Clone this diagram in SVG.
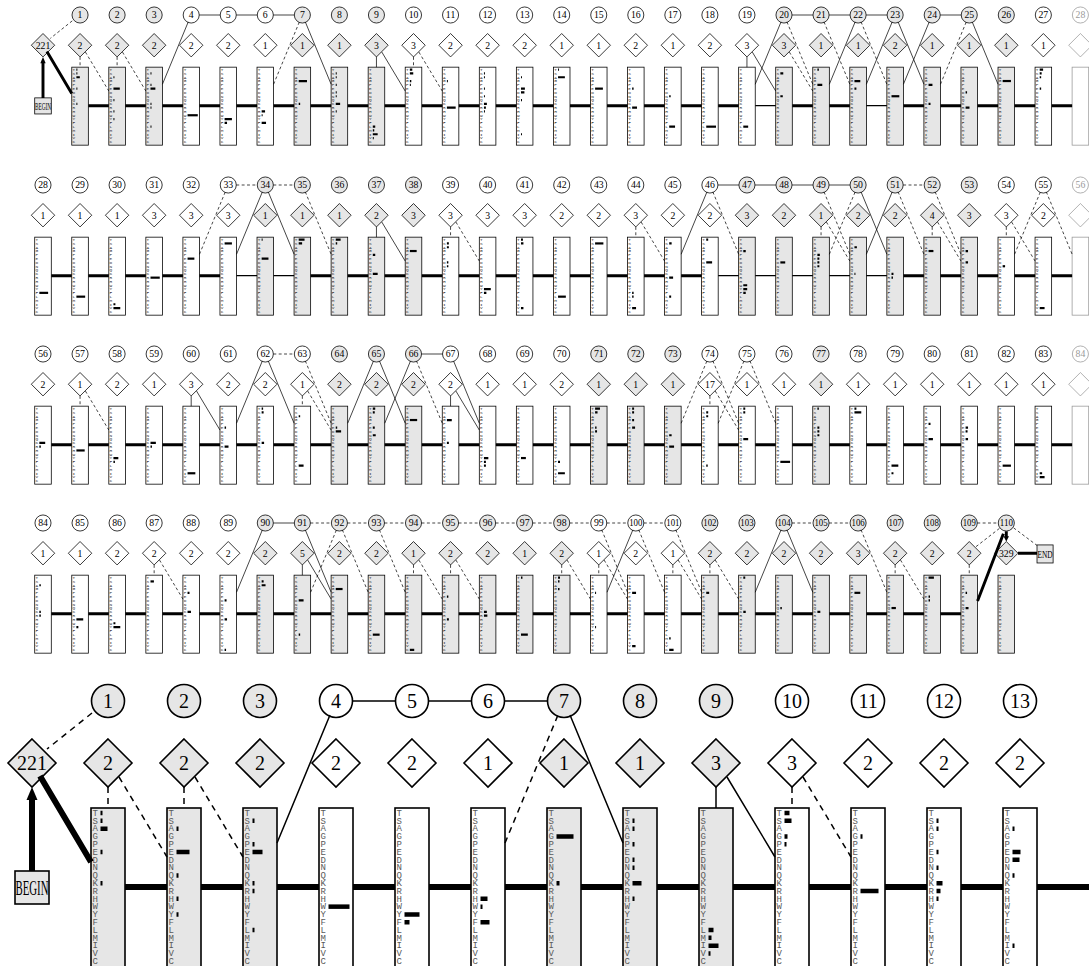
<svg xmlns="http://www.w3.org/2000/svg" width="1089" height="966" viewBox="0 0 1089 966">
<defs>
<style>
.s{stroke:#000;stroke-width:1.6}
.w{fill:#fff}
.k{fill:#e6e6e6}
.f{fill:#fff;stroke:#9a9a9a;stroke-width:1.6}
.n{font-family:"Liberation Serif","Times New Roman",serif;font-size:20px;text-anchor:middle;fill:#000}
.nf{fill:#9a9a9a}
.aa{font-family:"Liberation Mono","Courier New",monospace;font-size:9px}
#nodes-row1,#nodes-row2,#nodes-row3,#nodes-row4{fill:#2a2a2a}
#nodes-large{fill:#5a5a5a}
.b{fill:#000}
.ln{fill:none;stroke:#000;stroke-width:1.5}
.ds{stroke-dasharray:6 5}
.mm{fill:none;stroke:#000;stroke-width:6}
.mt{fill:none;stroke:#000;stroke-width:2.5}
.tk{fill:none;stroke:#000;stroke-width:6}
</style>
<g id="aa" class="aa">
<text x="-15.5" y="114.8">T</text><text x="-15.5" y="122.6">S</text><text x="-15.5" y="130.4">A</text><text x="-15.5" y="138.2">G</text><text x="-15.5" y="146">P</text><text x="-15.5" y="153.8">E</text><text x="-15.5" y="161.6">D</text><text x="-15.5" y="169.4">N</text><text x="-15.5" y="177.2">Q</text><text x="-15.5" y="185">K</text><text x="-15.5" y="192.8">R</text><text x="-15.5" y="200.6">H</text><text x="-15.5" y="208.4">W</text><text x="-15.5" y="216.2">Y</text><text x="-15.5" y="224">F</text><text x="-15.5" y="231.8">L</text><text x="-15.5" y="239.6">M</text><text x="-15.5" y="247.4">I</text><text x="-15.5" y="255.2">V</text><text x="-15.5" y="263">C</text>
</g>
</defs>
<rect width="1089" height="966" fill="#fff"/>

<g id="nodes">
<!-- ROW 1 -->
<g id="nodes-row1" transform="translate(43,15) scale(0.4875)">
<g id="begin"><rect class="s k" x="-17" y="170" width="34" height="33"/><text class="n" y="194" style="font-size:21px" textLength="33" lengthAdjust="spacingAndGlyphs">BEGIN</text></g>
<g id="i0" transform="translate(0,62)"><path class="s k" d="M0-24 24 0 0 24-24 0z"/><text class="n" y="7">221</text></g>
<g id="d1" transform="translate(76,0)"><circle class="s k" r="16.5"/><text class="n" y="7">1</text></g>
<g id="i1" transform="translate(76,62)"><path class="s k" d="M0-24 24 0 0 24-24 0z"/><text class="n" y="7">2</text></g>
<g id="m1" transform="translate(76,0)"><rect class="s k" x="-17" y="107" width="34" height="160"/><use href="#aa"/><path class="b" d="M-7.5 109.8h2v4.5h-2zM-7.5 117.6h2v4.5h-2zM-7.5 125.4h7v4.5h-7zM-7.5 148.8h2v4.5h-2zM-7.5 180h2v4.5h-2z"/></g>
<g id="d2" transform="translate(152,0)"><circle class="s k" r="16.5"/><text class="n" y="7">2</text></g>
<g id="i2" transform="translate(152,62)"><path class="s k" d="M0-24 24 0 0 24-24 0z"/><text class="n" y="7">2</text></g>
<g id="m2" transform="translate(152,0)"><rect class="s k" x="-17" y="107" width="34" height="160"/><use href="#aa"/><path class="b" d="M-7.5 125.4h2v4.5h-2zM-7.5 148.8h13v4.5h-13zM-7.5 172.2h2v4.5h-2zM-7.5 195.6h2v4.5h-2zM-7.5 211.2h2v4.5h-2z"/></g>
<g id="d3" transform="translate(228,0)"><circle class="s k" r="16.5"/><text class="n" y="7">3</text></g>
<g id="i3" transform="translate(228,62)"><path class="s k" d="M0-24 24 0 0 24-24 0z"/><text class="n" y="7">2</text></g>
<g id="m3" transform="translate(228,0)"><rect class="s k" x="-17" y="107" width="34" height="160"/><use href="#aa"/><path class="b" d="M-7.5 117.6h2v4.5h-2zM-7.5 141h2v4.5h-2zM-7.5 148.8h10v4.5h-10zM-7.5 180h2v4.5h-2zM-7.5 187.8h2v4.5h-2zM-7.5 226.8h2v4.5h-2z"/></g>
<g id="d4" transform="translate(304,0)"><circle class="s w" r="16.5"/><text class="n" y="7">4</text></g>
<g id="i4" transform="translate(304,62)"><path class="s w" d="M0-24 24 0 0 24-24 0z"/><text class="n" y="7">2</text></g>
<g id="m4" transform="translate(304,0)"><rect class="s w" x="-17" y="107" width="34" height="160"/><use href="#aa"/><path class="b" d="M-7.5 203.4h21v4.5h-21z"/></g>
<g id="d5" transform="translate(380,0)"><circle class="s w" r="16.5"/><text class="n" y="7">5</text></g>
<g id="i5" transform="translate(380,62)"><path class="s w" d="M0-24 24 0 0 24-24 0z"/><text class="n" y="7">2</text></g>
<g id="m5" transform="translate(380,0)"><rect class="s w" x="-17" y="107" width="34" height="160"/><use href="#aa"/><path class="b" d="M-7.5 211.2h15v4.5h-15zM-7.5 219h5v4.5h-5z"/></g>
<g id="d6" transform="translate(456,0)"><circle class="s w" r="16.5"/><text class="n" y="7">6</text></g>
<g id="i6" transform="translate(456,62)"><path class="s w" d="M0-24 24 0 0 24-24 0z"/><text class="n" y="7">1</text></g>
<g id="m6" transform="translate(456,0)"><rect class="s w" x="-17" y="107" width="34" height="160"/><use href="#aa"/><path class="b" d="M-7.5 195.6h7v4.5h-7zM-7.5 203.4h2v4.5h-2zM-7.5 219h9v4.5h-9z"/></g>
<g id="d7" transform="translate(532,0)"><circle class="s k" r="16.5"/><text class="n" y="7">7</text></g>
<g id="i7" transform="translate(532,62)"><path class="s k" d="M0-24 24 0 0 24-24 0z"/><text class="n" y="7">1</text></g>
<g id="m7" transform="translate(532,0)"><rect class="s k" x="-17" y="107" width="34" height="160"/><use href="#aa"/><path class="b" d="M-7.5 133.2h17v4.5h-17zM-7.5 180h3v4.5h-3z"/></g>
<g id="d8" transform="translate(608,0)"><circle class="s k" r="16.5"/><text class="n" y="7">8</text></g>
<g id="i8" transform="translate(608,62)"><path class="s k" d="M0-24 24 0 0 24-24 0z"/><text class="n" y="7">1</text></g>
<g id="m8" transform="translate(608,0)"><rect class="s k" x="-17" y="107" width="34" height="160"/><use href="#aa"/><path class="b" d="M-7.5 117.6h2v4.5h-2zM-7.5 125.4h2v4.5h-2zM-7.5 141h2v4.5h-2zM-7.5 156.6h2v4.5h-2zM-7.5 164.4h2v4.5h-2zM-7.5 180h9v4.5h-9zM-7.5 195.6h2v4.5h-2z"/></g>
<g id="d9" transform="translate(684,0)"><circle class="s k" r="16.5"/><text class="n" y="7">9</text></g>
<g id="i9" transform="translate(684,62)"><path class="s k" d="M0-24 24 0 0 24-24 0z"/><text class="n" y="7">3</text></g>
<g id="m9" transform="translate(684,0)"><rect class="s k" x="-17" y="107" width="34" height="160"/><use href="#aa"/><path class="b" d="M-7.5 226.8h5v4.5h-5zM-7.5 234.6h3v4.5h-3zM-7.5 242.4h10v4.5h-10zM-7.5 250.2h2v4.5h-2z"/></g>
<g id="d10" transform="translate(760,0)"><circle class="s w" r="16.5"/><text class="n" y="7">10</text></g>
<g id="i10" transform="translate(760,62)"><path class="s w" d="M0-24 24 0 0 24-24 0z"/><text class="n" y="7">3</text></g>
<g id="m10" transform="translate(760,0)"><rect class="s w" x="-17" y="107" width="34" height="160"/><use href="#aa"/><path class="b" d="M-7.5 109.8h5v4.5h-5zM-7.5 117.6h7v4.5h-7zM-7.5 133.2h3v4.5h-3zM-7.5 141h2v4.5h-2z"/></g>
<g id="d11" transform="translate(836,0)"><circle class="s w" r="16.5"/><text class="n" y="7">11</text></g>
<g id="i11" transform="translate(836,62)"><path class="s w" d="M0-24 24 0 0 24-24 0z"/><text class="n" y="7">2</text></g>
<g id="m11" transform="translate(836,0)"><rect class="s w" x="-17" y="107" width="34" height="160"/><use href="#aa"/><path class="b" d="M-7.5 133.2h2v4.5h-2zM-7.5 187.8h18v4.5h-18z"/></g>
<g id="d12" transform="translate(912,0)"><circle class="s w" r="16.5"/><text class="n" y="7">12</text></g>
<g id="i12" transform="translate(912,62)"><path class="s w" d="M0-24 24 0 0 24-24 0z"/><text class="n" y="7">2</text></g>
<g id="m12" transform="translate(912,0)"><rect class="s w" x="-17" y="107" width="34" height="160"/><use href="#aa"/><path class="b" d="M-7.5 117.6h2v4.5h-2zM-7.5 125.4h2v4.5h-2zM-7.5 148.8h2v4.5h-2zM-7.5 164.4h2v4.5h-2zM-7.5 180h6v4.5h-6zM-7.5 187.8h4v4.5h-4zM-7.5 195.6h2v4.5h-2z"/></g>
<g id="d13" transform="translate(988,0)"><circle class="s w" r="16.5"/><text class="n" y="7">13</text></g>
<g id="i13" transform="translate(988,62)"><path class="s w" d="M0-24 24 0 0 24-24 0z"/><text class="n" y="7">2</text></g>
<g id="m13" transform="translate(988,0)"><rect class="s w" x="-17" y="107" width="34" height="160"/><use href="#aa"/><path class="b" d="M-7.5 125.4h2v4.5h-2zM-7.5 148.8h8v4.5h-8zM-7.5 156.6h7v4.5h-7zM-7.5 172.2h2v4.5h-2zM-7.5 242.4h2v4.5h-2z"/></g>
<g id="d14" transform="translate(1064,0)"><circle class="s w" r="16.5"/><text class="n" y="7">14</text></g>
<g id="i14" transform="translate(1064,62)"><path class="s w" d="M0-24 24 0 0 24-24 0z"/><text class="n" y="7">1</text></g>
<g id="m14" transform="translate(1064,0)"><rect class="s w" x="-17" y="107" width="34" height="160"/><use href="#aa"/><path class="b" d="M-7.5 109.8h2v4.5h-2zM-7.5 125.4h14v4.5h-14z"/></g>
<g id="d15" transform="translate(1140,0)"><circle class="s w" r="16.5"/><text class="n" y="7">15</text></g>
<g id="i15" transform="translate(1140,62)"><path class="s w" d="M0-24 24 0 0 24-24 0z"/><text class="n" y="7">1</text></g>
<g id="m15" transform="translate(1140,0)"><rect class="s w" x="-17" y="107" width="34" height="160"/><use href="#aa"/><path class="b" d="M-7.5 148.8h16v4.5h-16z"/></g>
<g id="d16" transform="translate(1216,0)"><circle class="s w" r="16.5"/><text class="n" y="7">16</text></g>
<g id="i16" transform="translate(1216,62)"><path class="s w" d="M0-24 24 0 0 24-24 0z"/><text class="n" y="7">2</text></g>
<g id="m16" transform="translate(1216,0)"><rect class="s w" x="-17" y="107" width="34" height="160"/><use href="#aa"/><path class="b" d="M-7.5 148.8h3v4.5h-3zM-7.5 187.8h10v4.5h-10z"/></g>
<g id="d17" transform="translate(1292,0)"><circle class="s w" r="16.5"/><text class="n" y="7">17</text></g>
<g id="i17" transform="translate(1292,62)"><path class="s w" d="M0-24 24 0 0 24-24 0z"/><text class="n" y="7">1</text></g>
<g id="m17" transform="translate(1292,0)"><rect class="s w" x="-17" y="107" width="34" height="160"/><use href="#aa"/><path class="b" d="M-7.5 164.4h3v4.5h-3zM-7.5 226.8h12v4.5h-12z"/></g>
<g id="d18" transform="translate(1368,0)"><circle class="s w" r="16.5"/><text class="n" y="7">18</text></g>
<g id="i18" transform="translate(1368,62)"><path class="s w" d="M0-24 24 0 0 24-24 0z"/><text class="n" y="7">2</text></g>
<g id="m18" transform="translate(1368,0)"><rect class="s w" x="-17" y="107" width="34" height="160"/><use href="#aa"/><path class="b" d="M-7.5 226.8h20v4.5h-20z"/></g>
<g id="d19" transform="translate(1444,0)"><circle class="s w" r="16.5"/><text class="n" y="7">19</text></g>
<g id="i19" transform="translate(1444,62)"><path class="s w" d="M0-24 24 0 0 24-24 0z"/><text class="n" y="7">3</text></g>
<g id="m19" transform="translate(1444,0)"><rect class="s w" x="-17" y="107" width="34" height="160"/><use href="#aa"/><path class="b" d="M-7.5 226.8h10v4.5h-10z"/></g>
<g id="d20" transform="translate(1520,0)"><circle class="s k" r="16.5"/><text class="n" y="7">20</text></g>
<g id="i20" transform="translate(1520,62)"><path class="s k" d="M0-24 24 0 0 24-24 0z"/><text class="n" y="7">3</text></g>
<g id="m20" transform="translate(1520,0)"><rect class="s k" x="-17" y="107" width="34" height="160"/><use href="#aa"/><path class="b" d="M-7.5 117.6h6v4.5h-6zM-7.5 164.4h5v4.5h-5z"/></g>
<g id="d21" transform="translate(1596,0)"><circle class="s k" r="16.5"/><text class="n" y="7">21</text></g>
<g id="i21" transform="translate(1596,62)"><path class="s k" d="M0-24 24 0 0 24-24 0z"/><text class="n" y="7">1</text></g>
<g id="m21" transform="translate(1596,0)"><rect class="s k" x="-17" y="107" width="34" height="160"/><use href="#aa"/><path class="b" d="M-7.5 109.8h3v4.5h-3zM-7.5 141h10v4.5h-10z"/></g>
<g id="d22" transform="translate(1672,0)"><circle class="s k" r="16.5"/><text class="n" y="7">22</text></g>
<g id="i22" transform="translate(1672,62)"><path class="s k" d="M0-24 24 0 0 24-24 0z"/><text class="n" y="7">1</text></g>
<g id="m22" transform="translate(1672,0)"><rect class="s k" x="-17" y="107" width="34" height="160"/><use href="#aa"/><path class="b" d="M-7.5 133.2h12v4.5h-12zM-7.5 148.8h4v4.5h-4z"/></g>
<g id="d23" transform="translate(1748,0)"><circle class="s k" r="16.5"/><text class="n" y="7">23</text></g>
<g id="i23" transform="translate(1748,62)"><path class="s k" d="M0-24 24 0 0 24-24 0z"/><text class="n" y="7">2</text></g>
<g id="m23" transform="translate(1748,0)"><rect class="s k" x="-17" y="107" width="34" height="160"/><use href="#aa"/><path class="b" d="M-7.5 164.4h16v4.5h-16z"/></g>
<g id="d24" transform="translate(1824,0)"><circle class="s k" r="16.5"/><text class="n" y="7">24</text></g>
<g id="i24" transform="translate(1824,62)"><path class="s k" d="M0-24 24 0 0 24-24 0z"/><text class="n" y="7">1</text></g>
<g id="m24" transform="translate(1824,0)"><rect class="s k" x="-17" y="107" width="34" height="160"/><use href="#aa"/><path class="b" d="M-7.5 141h8v4.5h-8zM-7.5 180h4v4.5h-4z"/></g>
<g id="d25" transform="translate(1900,0)"><circle class="s k" r="16.5"/><text class="n" y="7">25</text></g>
<g id="i25" transform="translate(1900,62)"><path class="s k" d="M0-24 24 0 0 24-24 0z"/><text class="n" y="7">1</text></g>
<g id="m25" transform="translate(1900,0)"><rect class="s k" x="-17" y="107" width="34" height="160"/><use href="#aa"/><path class="b" d="M-7.5 156.6h3v4.5h-3zM-7.5 187.8h8v4.5h-8z"/></g>
<g id="d26" transform="translate(1976,0)"><circle class="s k" r="16.5"/><text class="n" y="7">26</text></g>
<g id="i26" transform="translate(1976,62)"><path class="s k" d="M0-24 24 0 0 24-24 0z"/><text class="n" y="7">1</text></g>
<g id="m26" transform="translate(1976,0)"><rect class="s k" x="-17" y="107" width="34" height="160"/><use href="#aa"/><path class="b" d="M-7.5 133.2h17v4.5h-17z"/></g>
<g id="d27" transform="translate(2052,0)"><circle class="s w" r="16.5"/><text class="n" y="7">27</text></g>
<g id="i27" transform="translate(2052,62)"><path class="s w" d="M0-24 24 0 0 24-24 0z"/><text class="n" y="7">1</text></g>
<g id="m27" transform="translate(2052,0)"><rect class="s w" x="-17" y="107" width="34" height="160"/><use href="#aa"/><path class="b" d="M-7.5 109.8h7v4.5h-7zM-7.5 117.6h4v4.5h-4zM-7.5 125.4h3v4.5h-3zM-7.5 148.8h3v4.5h-3z"/></g>
<g id="gd28" transform="translate(2128,0)"><circle class="f" r="16.5"/><text class="n nf" y="7">28</text></g>
<g id="gi28" transform="translate(2128,62)"><path class="f" d="M0-24 24 0 0 24-24 0z"/></g>
<g id="gm28" transform="translate(2128,0)"><rect class="f" x="-17" y="107" width="34" height="160"/></g>
</g>

<!-- ROW 2 -->
<g id="nodes-row2" transform="translate(43,185) scale(0.4875)">
<g id="d28" transform="translate(0,0)"><circle class="s w" r="16.5"/><text class="n" y="7">28</text></g>
<g id="i28" transform="translate(0,62)"><path class="s w" d="M0-24 24 0 0 24-24 0z"/><text class="n" y="7">1</text></g>
<g id="m28" transform="translate(0,0)"><rect class="s w" x="-17" y="107" width="34" height="160"/><use href="#aa"/><path class="b" d="M-7.5 219h18v4.5h-18z"/></g>
<g id="d29" transform="translate(76,0)"><circle class="s w" r="16.5"/><text class="n" y="7">29</text></g>
<g id="i29" transform="translate(76,62)"><path class="s w" d="M0-24 24 0 0 24-24 0z"/><text class="n" y="7">1</text></g>
<g id="m29" transform="translate(76,0)"><rect class="s w" x="-17" y="107" width="34" height="160"/><use href="#aa"/><path class="b" d="M-7.5 226.8h18v4.5h-18z"/></g>
<g id="d30" transform="translate(152,0)"><circle class="s w" r="16.5"/><text class="n" y="7">30</text></g>
<g id="i30" transform="translate(152,62)"><path class="s w" d="M0-24 24 0 0 24-24 0z"/><text class="n" y="7">1</text></g>
<g id="m30" transform="translate(152,0)"><rect class="s w" x="-17" y="107" width="34" height="160"/><use href="#aa"/><path class="b" d="M-7.5 242.4h4v4.5h-4zM-7.5 250.2h14v4.5h-14z"/></g>
<g id="d31" transform="translate(228,0)"><circle class="s w" r="16.5"/><text class="n" y="7">31</text></g>
<g id="i31" transform="translate(228,62)"><path class="s w" d="M0-24 24 0 0 24-24 0z"/><text class="n" y="7">3</text></g>
<g id="m31" transform="translate(228,0)"><rect class="s w" x="-17" y="107" width="34" height="160"/><use href="#aa"/><path class="b" d="M-7.5 187.8h19v4.5h-19z"/></g>
<g id="d32" transform="translate(304,0)"><circle class="s w" r="16.5"/><text class="n" y="7">32</text></g>
<g id="i32" transform="translate(304,62)"><path class="s w" d="M0-24 24 0 0 24-24 0z"/><text class="n" y="7">3</text></g>
<g id="m32" transform="translate(304,0)"><rect class="s w" x="-17" y="107" width="34" height="160"/><use href="#aa"/><path class="b" d="M-7.5 148.8h14v4.5h-14z"/></g>
<g id="d33" transform="translate(380,0)"><circle class="s w" r="16.5"/><text class="n" y="7">33</text></g>
<g id="i33" transform="translate(380,62)"><path class="s w" d="M0-24 24 0 0 24-24 0z"/><text class="n" y="7">3</text></g>
<g id="m33" transform="translate(380,0)"><rect class="s w" x="-17" y="107" width="34" height="160"/><use href="#aa"/><path class="b" d="M-7.5 117.6h15v4.5h-15z"/></g>
<g id="d34" transform="translate(456,0)"><circle class="s k" r="16.5"/><text class="n" y="7">34</text></g>
<g id="i34" transform="translate(456,62)"><path class="s k" d="M0-24 24 0 0 24-24 0z"/><text class="n" y="7">1</text></g>
<g id="m34" transform="translate(456,0)"><rect class="s k" x="-17" y="107" width="34" height="160"/><use href="#aa"/><path class="b" d="M-7.5 109.8h2v4.5h-2zM-7.5 148.8h14v4.5h-14z"/></g>
<g id="d35" transform="translate(532,0)"><circle class="s k" r="16.5"/><text class="n" y="7">35</text></g>
<g id="i35" transform="translate(532,62)"><path class="s k" d="M0-24 24 0 0 24-24 0z"/><text class="n" y="7">1</text></g>
<g id="m35" transform="translate(532,0)"><rect class="s k" x="-17" y="107" width="34" height="160"/><use href="#aa"/><path class="b" d="M-7.5 109.8h12v4.5h-12zM-7.5 117.6h7v4.5h-7z"/></g>
<g id="d36" transform="translate(608,0)"><circle class="s k" r="16.5"/><text class="n" y="7">36</text></g>
<g id="i36" transform="translate(608,62)"><path class="s k" d="M0-24 24 0 0 24-24 0z"/><text class="n" y="7">1</text></g>
<g id="m36" transform="translate(608,0)"><rect class="s k" x="-17" y="107" width="34" height="160"/><use href="#aa"/><path class="b" d="M-7.5 109.8h10v4.5h-10zM-7.5 117.6h3v4.5h-3z"/></g>
<g id="d37" transform="translate(684,0)"><circle class="s k" r="16.5"/><text class="n" y="7">37</text></g>
<g id="i37" transform="translate(684,62)"><path class="s k" d="M0-24 24 0 0 24-24 0z"/><text class="n" y="7">2</text></g>
<g id="m37" transform="translate(684,0)"><rect class="s k" x="-17" y="107" width="34" height="160"/><use href="#aa"/><path class="b" d="M-7.5 141h5v4.5h-5zM-7.5 180h10v4.5h-10z"/></g>
<g id="d38" transform="translate(760,0)"><circle class="s k" r="16.5"/><text class="n" y="7">38</text></g>
<g id="i38" transform="translate(760,62)"><path class="s k" d="M0-24 24 0 0 24-24 0z"/><text class="n" y="7">3</text></g>
<g id="m38" transform="translate(760,0)"><rect class="s k" x="-17" y="107" width="34" height="160"/><use href="#aa"/><path class="b" d="M-7.5 133.2h14v4.5h-14z"/></g>
<g id="d39" transform="translate(836,0)"><circle class="s w" r="16.5"/><text class="n" y="7">39</text></g>
<g id="i39" transform="translate(836,62)"><path class="s w" d="M0-24 24 0 0 24-24 0z"/><text class="n" y="7">3</text></g>
<g id="m39" transform="translate(836,0)"><rect class="s w" x="-17" y="107" width="34" height="160"/><use href="#aa"/><path class="b" d="M-7.5 117.6h4v4.5h-4zM-7.5 125.4h4v4.5h-4zM-7.5 156.6h3v4.5h-3zM-7.5 164.4h3v4.5h-3z"/></g>
<g id="d40" transform="translate(912,0)"><circle class="s w" r="16.5"/><text class="n" y="7">40</text></g>
<g id="i40" transform="translate(912,62)"><path class="s w" d="M0-24 24 0 0 24-24 0z"/><text class="n" y="7">3</text></g>
<g id="m40" transform="translate(912,0)"><rect class="s w" x="-17" y="107" width="34" height="160"/><use href="#aa"/><path class="b" d="M-7.5 211.2h14v4.5h-14zM-7.5 219h5v4.5h-5z"/></g>
<g id="d41" transform="translate(988,0)"><circle class="s w" r="16.5"/><text class="n" y="7">41</text></g>
<g id="i41" transform="translate(988,62)"><path class="s w" d="M0-24 24 0 0 24-24 0z"/><text class="n" y="7">3</text></g>
<g id="m41" transform="translate(988,0)"><rect class="s w" x="-17" y="107" width="34" height="160"/><use href="#aa"/><path class="b" d="M-7.5 109.8h4v4.5h-4zM-7.5 117.6h5v4.5h-5zM-7.5 250.2h5v4.5h-5z"/></g>
<g id="d42" transform="translate(1064,0)"><circle class="s w" r="16.5"/><text class="n" y="7">42</text></g>
<g id="i42" transform="translate(1064,62)"><path class="s w" d="M0-24 24 0 0 24-24 0z"/><text class="n" y="7">2</text></g>
<g id="m42" transform="translate(1064,0)"><rect class="s w" x="-17" y="107" width="34" height="160"/><use href="#aa"/><path class="b" d="M-7.5 226.8h16v4.5h-16z"/></g>
<g id="d43" transform="translate(1140,0)"><circle class="s w" r="16.5"/><text class="n" y="7">43</text></g>
<g id="i43" transform="translate(1140,62)"><path class="s w" d="M0-24 24 0 0 24-24 0z"/><text class="n" y="7">2</text></g>
<g id="m43" transform="translate(1140,0)"><rect class="s w" x="-17" y="107" width="34" height="160"/><use href="#aa"/><path class="b" d="M-7.5 117.6h17v4.5h-17z"/></g>
<g id="d44" transform="translate(1216,0)"><circle class="s w" r="16.5"/><text class="n" y="7">44</text></g>
<g id="i44" transform="translate(1216,62)"><path class="s w" d="M0-24 24 0 0 24-24 0z"/><text class="n" y="7">3</text></g>
<g id="m44" transform="translate(1216,0)"><rect class="s w" x="-17" y="107" width="34" height="160"/><use href="#aa"/><path class="b" d="M-7.5 219h3v4.5h-3zM-7.5 226.8h3v4.5h-3zM-7.5 250.2h8v4.5h-8z"/></g>
<g id="d45" transform="translate(1292,0)"><circle class="s w" r="16.5"/><text class="n" y="7">45</text></g>
<g id="i45" transform="translate(1292,62)"><path class="s w" d="M0-24 24 0 0 24-24 0z"/><text class="n" y="7">2</text></g>
<g id="m45" transform="translate(1292,0)"><rect class="s w" x="-17" y="107" width="34" height="160"/><use href="#aa"/><path class="b" d="M-7.5 117.6h5v4.5h-5zM-7.5 187.8h8v4.5h-8zM-7.5 226.8h4v4.5h-4z"/></g>
<g id="d46" transform="translate(1368,0)"><circle class="s w" r="16.5"/><text class="n" y="7">46</text></g>
<g id="i46" transform="translate(1368,62)"><path class="s w" d="M0-24 24 0 0 24-24 0z"/><text class="n" y="7">2</text></g>
<g id="m46" transform="translate(1368,0)"><rect class="s w" x="-17" y="107" width="34" height="160"/><use href="#aa"/><path class="b" d="M-7.5 109.8h4v4.5h-4zM-7.5 156.6h12v4.5h-12z"/></g>
<g id="d47" transform="translate(1444,0)"><circle class="s k" r="16.5"/><text class="n" y="7">47</text></g>
<g id="i47" transform="translate(1444,62)"><path class="s k" d="M0-24 24 0 0 24-24 0z"/><text class="n" y="7">3</text></g>
<g id="m47" transform="translate(1444,0)"><rect class="s k" x="-17" y="107" width="34" height="160"/><use href="#aa"/><path class="b" d="M-7.5 133.2h5v4.5h-5zM-7.5 203.4h8v4.5h-8zM-7.5 211.2h8v4.5h-8zM-7.5 219h5v4.5h-5z"/></g>
<g id="d48" transform="translate(1520,0)"><circle class="s k" r="16.5"/><text class="n" y="7">48</text></g>
<g id="i48" transform="translate(1520,62)"><path class="s k" d="M0-24 24 0 0 24-24 0z"/><text class="n" y="7">2</text></g>
<g id="m48" transform="translate(1520,0)"><rect class="s k" x="-17" y="107" width="34" height="160"/><use href="#aa"/><path class="b" d="M-7.5 156.6h10v4.5h-10z"/></g>
<g id="d49" transform="translate(1596,0)"><circle class="s k" r="16.5"/><text class="n" y="7">49</text></g>
<g id="i49" transform="translate(1596,62)"><path class="s k" d="M0-24 24 0 0 24-24 0z"/><text class="n" y="7">1</text></g>
<g id="m49" transform="translate(1596,0)"><rect class="s k" x="-17" y="107" width="34" height="160"/><use href="#aa"/><path class="b" d="M-7.5 141h5v4.5h-5zM-7.5 148.8h4v4.5h-4zM-7.5 156.6h4v4.5h-4zM-7.5 164.4h4v4.5h-4z"/></g>
<g id="d50" transform="translate(1672,0)"><circle class="s k" r="16.5"/><text class="n" y="7">50</text></g>
<g id="i50" transform="translate(1672,62)"><path class="s k" d="M0-24 24 0 0 24-24 0z"/><text class="n" y="7">2</text></g>
<g id="m50" transform="translate(1672,0)"><rect class="s k" x="-17" y="107" width="34" height="160"/><use href="#aa"/><path class="b" d="M-7.5 125.4h5v4.5h-5zM-7.5 180h2v4.5h-2z"/></g>
<g id="d51" transform="translate(1748,0)"><circle class="s k" r="16.5"/><text class="n" y="7">51</text></g>
<g id="i51" transform="translate(1748,62)"><path class="s k" d="M0-24 24 0 0 24-24 0z"/><text class="n" y="7">2</text></g>
<g id="m51" transform="translate(1748,0)"><rect class="s k" x="-17" y="107" width="34" height="160"/><use href="#aa"/><path class="b" d="M-7.5 180h4v4.5h-4zM-7.5 187.8h3v4.5h-3z"/></g>
<g id="d52" transform="translate(1824,0)"><circle class="s k" r="16.5"/><text class="n" y="7">52</text></g>
<g id="i52" transform="translate(1824,62)"><path class="s k" d="M0-24 24 0 0 24-24 0z"/><text class="n" y="7">4</text></g>
<g id="m52" transform="translate(1824,0)"><rect class="s k" x="-17" y="107" width="34" height="160"/><use href="#aa"/><path class="b" d="M-7.5 133.2h10v4.5h-10z"/></g>
<g id="d53" transform="translate(1900,0)"><circle class="s k" r="16.5"/><text class="n" y="7">53</text></g>
<g id="i53" transform="translate(1900,62)"><path class="s k" d="M0-24 24 0 0 24-24 0z"/><text class="n" y="7">3</text></g>
<g id="m53" transform="translate(1900,0)"><rect class="s k" x="-17" y="107" width="34" height="160"/><use href="#aa"/><path class="b" d="M-7.5 133.2h5v4.5h-5zM-7.5 156.6h5v4.5h-5z"/></g>
<g id="d54" transform="translate(1976,0)"><circle class="s w" r="16.5"/><text class="n" y="7">54</text></g>
<g id="i54" transform="translate(1976,62)"><path class="s w" d="M0-24 24 0 0 24-24 0z"/><text class="n" y="7">3</text></g>
<g id="m54" transform="translate(1976,0)"><rect class="s w" x="-17" y="107" width="34" height="160"/><use href="#aa"/><path class="b" d="M-7.5 164.4h5v4.5h-5z"/></g>
<g id="d55" transform="translate(2052,0)"><circle class="s w" r="16.5"/><text class="n" y="7">55</text></g>
<g id="i55" transform="translate(2052,62)"><path class="s w" d="M0-24 24 0 0 24-24 0z"/><text class="n" y="7">2</text></g>
<g id="m55" transform="translate(2052,0)"><rect class="s w" x="-17" y="107" width="34" height="160"/><use href="#aa"/><path class="b" d="M-7.5 250.2h10v4.5h-10z"/></g>
<g id="gd56" transform="translate(2128,0)"><circle class="f" r="16.5"/><text class="n nf" y="7">56</text></g>
<g id="gi56" transform="translate(2128,62)"><path class="f" d="M0-24 24 0 0 24-24 0z"/></g>
<g id="gm56" transform="translate(2128,0)"><rect class="f" x="-17" y="107" width="34" height="160"/></g>
</g>

<!-- ROW 3 -->
<g id="nodes-row3" transform="translate(43,354) scale(0.4875)">
<g id="d56" transform="translate(0,0)"><circle class="s w" r="16.5"/><text class="n" y="7">56</text></g>
<g id="i56" transform="translate(0,62)"><path class="s w" d="M0-24 24 0 0 24-24 0z"/><text class="n" y="7">2</text></g>
<g id="m56" transform="translate(0,0)"><rect class="s w" x="-17" y="107" width="34" height="160"/><use href="#aa"/><path class="b" d="M-7.5 180h12v4.5h-12zM-7.5 187.8h3v4.5h-3z"/></g>
<g id="d57" transform="translate(76,0)"><circle class="s w" r="16.5"/><text class="n" y="7">57</text></g>
<g id="i57" transform="translate(76,62)"><path class="s w" d="M0-24 24 0 0 24-24 0z"/><text class="n" y="7">1</text></g>
<g id="m57" transform="translate(76,0)"><rect class="s w" x="-17" y="107" width="34" height="160"/><use href="#aa"/><path class="b" d="M-7.5 195.6h17v4.5h-17z"/></g>
<g id="d58" transform="translate(152,0)"><circle class="s w" r="16.5"/><text class="n" y="7">58</text></g>
<g id="i58" transform="translate(152,62)"><path class="s w" d="M0-24 24 0 0 24-24 0z"/><text class="n" y="7">2</text></g>
<g id="m58" transform="translate(152,0)"><rect class="s w" x="-17" y="107" width="34" height="160"/><use href="#aa"/><path class="b" d="M-7.5 211.2h10v4.5h-10zM-7.5 219h3v4.5h-3z"/></g>
<g id="d59" transform="translate(228,0)"><circle class="s w" r="16.5"/><text class="n" y="7">59</text></g>
<g id="i59" transform="translate(228,62)"><path class="s w" d="M0-24 24 0 0 24-24 0z"/><text class="n" y="7">1</text></g>
<g id="m59" transform="translate(228,0)"><rect class="s w" x="-17" y="107" width="34" height="160"/><use href="#aa"/><path class="b" d="M-7.5 180h11v4.5h-11zM-7.5 187.8h3v4.5h-3z"/></g>
<g id="d60" transform="translate(304,0)"><circle class="s w" r="16.5"/><text class="n" y="7">60</text></g>
<g id="i60" transform="translate(304,62)"><path class="s w" d="M0-24 24 0 0 24-24 0z"/><text class="n" y="7">3</text></g>
<g id="m60" transform="translate(304,0)"><rect class="s w" x="-17" y="107" width="34" height="160"/><use href="#aa"/><path class="b" d="M-7.5 242.4h16v4.5h-16z"/></g>
<g id="d61" transform="translate(380,0)"><circle class="s w" r="16.5"/><text class="n" y="7">61</text></g>
<g id="i61" transform="translate(380,62)"><path class="s w" d="M0-24 24 0 0 24-24 0z"/><text class="n" y="7">2</text></g>
<g id="m61" transform="translate(380,0)"><rect class="s w" x="-17" y="107" width="34" height="160"/><use href="#aa"/><path class="b" d="M-7.5 148.8h3v4.5h-3zM-7.5 187.8h8v4.5h-8z"/></g>
<g id="d62" transform="translate(456,0)"><circle class="s w" r="16.5"/><text class="n" y="7">62</text></g>
<g id="i62" transform="translate(456,62)"><path class="s w" d="M0-24 24 0 0 24-24 0z"/><text class="n" y="7">2</text></g>
<g id="m62" transform="translate(456,0)"><rect class="s w" x="-17" y="107" width="34" height="160"/><use href="#aa"/><path class="b" d="M-7.5 109.8h3v4.5h-3zM-7.5 117.6h4v4.5h-4zM-7.5 180h5v4.5h-5z"/></g>
<g id="d63" transform="translate(532,0)"><circle class="s w" r="16.5"/><text class="n" y="7">63</text></g>
<g id="i63" transform="translate(532,62)"><path class="s w" d="M0-24 24 0 0 24-24 0z"/><text class="n" y="7">1</text></g>
<g id="m63" transform="translate(532,0)"><rect class="s w" x="-17" y="107" width="34" height="160"/><use href="#aa"/><path class="b" d="M-7.5 125.4h3v4.5h-3zM-7.5 226.8h10v4.5h-10z"/></g>
<g id="d64" transform="translate(608,0)"><circle class="s k" r="16.5"/><text class="n" y="7">64</text></g>
<g id="i64" transform="translate(608,62)"><path class="s k" d="M0-24 24 0 0 24-24 0z"/><text class="n" y="7">2</text></g>
<g id="m64" transform="translate(608,0)"><rect class="s k" x="-17" y="107" width="34" height="160"/><use href="#aa"/><path class="b" d="M-7.5 148.8h3v4.5h-3zM-7.5 156.6h11v4.5h-11z"/></g>
<g id="d65" transform="translate(684,0)"><circle class="s k" r="16.5"/><text class="n" y="7">65</text></g>
<g id="i65" transform="translate(684,62)"><path class="s k" d="M0-24 24 0 0 24-24 0z"/><text class="n" y="7">2</text></g>
<g id="m65" transform="translate(684,0)"><rect class="s k" x="-17" y="107" width="34" height="160"/><use href="#aa"/><path class="b" d="M-7.5 109.8h5v4.5h-5zM-7.5 117.6h4v4.5h-4zM-7.5 148.8h4v4.5h-4zM-7.5 164.4h6v4.5h-6z"/></g>
<g id="d66" transform="translate(760,0)"><circle class="s k" r="16.5"/><text class="n" y="7">66</text></g>
<g id="i66" transform="translate(760,62)"><path class="s k" d="M0-24 24 0 0 24-24 0z"/><text class="n" y="7">2</text></g>
<g id="m66" transform="translate(760,0)"><rect class="s k" x="-17" y="107" width="34" height="160"/><use href="#aa"/><path class="b" d="M-7.5 133.2h15v4.5h-15z"/></g>
<g id="d67" transform="translate(836,0)"><circle class="s w" r="16.5"/><text class="n" y="7">67</text></g>
<g id="i67" transform="translate(836,62)"><path class="s w" d="M0-24 24 0 0 24-24 0z"/><text class="n" y="7">2</text></g>
<g id="m67" transform="translate(836,0)"><rect class="s w" x="-17" y="107" width="34" height="160"/><use href="#aa"/><path class="b" d="M-7.5 133.2h10v4.5h-10zM-7.5 180h4v4.5h-4z"/></g>
<g id="d68" transform="translate(912,0)"><circle class="s w" r="16.5"/><text class="n" y="7">68</text></g>
<g id="i68" transform="translate(912,62)"><path class="s w" d="M0-24 24 0 0 24-24 0z"/><text class="n" y="7">1</text></g>
<g id="m68" transform="translate(912,0)"><rect class="s w" x="-17" y="107" width="34" height="160"/><use href="#aa"/><path class="b" d="M-7.5 211.2h9v4.5h-9zM-7.5 219h4v4.5h-4zM-7.5 226.8h4v4.5h-4z"/></g>
<g id="d69" transform="translate(988,0)"><circle class="s w" r="16.5"/><text class="n" y="7">69</text></g>
<g id="i69" transform="translate(988,62)"><path class="s w" d="M0-24 24 0 0 24-24 0z"/><text class="n" y="7">1</text></g>
<g id="m69" transform="translate(988,0)"><rect class="s w" x="-17" y="107" width="34" height="160"/><use href="#aa"/><path class="b" d="M-7.5 211.2h10v4.5h-10z"/></g>
<g id="d70" transform="translate(1064,0)"><circle class="s w" r="16.5"/><text class="n" y="7">70</text></g>
<g id="i70" transform="translate(1064,62)"><path class="s w" d="M0-24 24 0 0 24-24 0z"/><text class="n" y="7">2</text></g>
<g id="m70" transform="translate(1064,0)"><rect class="s w" x="-17" y="107" width="34" height="160"/><use href="#aa"/><path class="b" d="M-7.5 219h4v4.5h-4zM-7.5 242.4h14v4.5h-14z"/></g>
<g id="d71" transform="translate(1140,0)"><circle class="s k" r="16.5"/><text class="n" y="7">71</text></g>
<g id="i71" transform="translate(1140,62)"><path class="s k" d="M0-24 24 0 0 24-24 0z"/><text class="n" y="7">1</text></g>
<g id="m71" transform="translate(1140,0)"><rect class="s k" x="-17" y="107" width="34" height="160"/><use href="#aa"/><path class="b" d="M-7.5 109.8h10v4.5h-10zM-7.5 117.6h5v4.5h-5zM-7.5 148.8h3v4.5h-3zM-7.5 156.6h4v4.5h-4z"/></g>
<g id="d72" transform="translate(1216,0)"><circle class="s k" r="16.5"/><text class="n" y="7">72</text></g>
<g id="i72" transform="translate(1216,62)"><path class="s k" d="M0-24 24 0 0 24-24 0z"/><text class="n" y="7">1</text></g>
<g id="m72" transform="translate(1216,0)"><rect class="s k" x="-17" y="107" width="34" height="160"/><use href="#aa"/><path class="b" d="M-7.5 109.8h4v4.5h-4zM-7.5 117.6h4v4.5h-4zM-7.5 133.2h4v4.5h-4zM-7.5 148.8h6v4.5h-6z"/></g>
<g id="d73" transform="translate(1292,0)"><circle class="s k" r="16.5"/><text class="n" y="7">73</text></g>
<g id="i73" transform="translate(1292,62)"><path class="s k" d="M0-24 24 0 0 24-24 0z"/><text class="n" y="7">1</text></g>
<g id="m73" transform="translate(1292,0)"><rect class="s k" x="-17" y="107" width="34" height="160"/><use href="#aa"/><path class="b" d="M-7.5 164.4h5v4.5h-5zM-7.5 187.8h10v4.5h-10z"/></g>
<g id="d74" transform="translate(1368,0)"><circle class="s w" r="16.5"/><text class="n" y="7">74</text></g>
<g id="i74" transform="translate(1368,62)"><path class="s w" d="M0-24 24 0 0 24-24 0z"/><text class="n" y="7">17</text></g>
<g id="m74" transform="translate(1368,0)"><rect class="s w" x="-17" y="107" width="34" height="160"/><use href="#aa"/><path class="b" d="M-7.5 117.6h4v4.5h-4zM-7.5 125.4h4v4.5h-4zM-7.5 226.8h3v4.5h-3z"/></g>
<g id="d75" transform="translate(1444,0)"><circle class="s w" r="16.5"/><text class="n" y="7">75</text></g>
<g id="i75" transform="translate(1444,62)"><path class="s w" d="M0-24 24 0 0 24-24 0z"/><text class="n" y="7">1</text></g>
<g id="m75" transform="translate(1444,0)"><rect class="s w" x="-17" y="107" width="34" height="160"/><use href="#aa"/><path class="b" d="M-7.5 109.8h4v4.5h-4zM-7.5 117.6h4v4.5h-4zM-7.5 172.2h10v4.5h-10z"/></g>
<g id="d76" transform="translate(1520,0)"><circle class="s w" r="16.5"/><text class="n" y="7">76</text></g>
<g id="i76" transform="translate(1520,62)"><path class="s w" d="M0-24 24 0 0 24-24 0z"/><text class="n" y="7">1</text></g>
<g id="m76" transform="translate(1520,0)"><rect class="s w" x="-17" y="107" width="34" height="160"/><use href="#aa"/><path class="b" d="M-7.5 219h20v4.5h-20z"/></g>
<g id="d77" transform="translate(1596,0)"><circle class="s k" r="16.5"/><text class="n" y="7">77</text></g>
<g id="i77" transform="translate(1596,62)"><path class="s k" d="M0-24 24 0 0 24-24 0z"/><text class="n" y="7">1</text></g>
<g id="m77" transform="translate(1596,0)"><rect class="s k" x="-17" y="107" width="34" height="160"/><use href="#aa"/><path class="b" d="M-7.5 109.8h3v4.5h-3zM-7.5 148.8h4v4.5h-4zM-7.5 156.6h4v4.5h-4zM-7.5 164.4h4v4.5h-4z"/></g>
<g id="d78" transform="translate(1672,0)"><circle class="s w" r="16.5"/><text class="n" y="7">78</text></g>
<g id="i78" transform="translate(1672,62)"><path class="s w" d="M0-24 24 0 0 24-24 0z"/><text class="n" y="7">1</text></g>
<g id="m78" transform="translate(1672,0)"><rect class="s w" x="-17" y="107" width="34" height="160"/><use href="#aa"/><path class="b" d="M-7.5 109.8h4v4.5h-4zM-7.5 117.6h14v4.5h-14z"/></g>
<g id="d79" transform="translate(1748,0)"><circle class="s w" r="16.5"/><text class="n" y="7">79</text></g>
<g id="i79" transform="translate(1748,62)"><path class="s w" d="M0-24 24 0 0 24-24 0z"/><text class="n" y="7">1</text></g>
<g id="m79" transform="translate(1748,0)"><rect class="s w" x="-17" y="107" width="34" height="160"/><use href="#aa"/><path class="b" d="M-7.5 226.8h14v4.5h-14zM-7.5 242.4h4v4.5h-4z"/></g>
<g id="d80" transform="translate(1824,0)"><circle class="s w" r="16.5"/><text class="n" y="7">80</text></g>
<g id="i80" transform="translate(1824,62)"><path class="s w" d="M0-24 24 0 0 24-24 0z"/><text class="n" y="7">1</text></g>
<g id="m80" transform="translate(1824,0)"><rect class="s w" x="-17" y="107" width="34" height="160"/><use href="#aa"/><path class="b" d="M-7.5 141h4v4.5h-4zM-7.5 172.2h9v4.5h-9z"/></g>
<g id="d81" transform="translate(1900,0)"><circle class="s w" r="16.5"/><text class="n" y="7">81</text></g>
<g id="i81" transform="translate(1900,62)"><path class="s w" d="M0-24 24 0 0 24-24 0z"/><text class="n" y="7">1</text></g>
<g id="m81" transform="translate(1900,0)"><rect class="s w" x="-17" y="107" width="34" height="160"/><use href="#aa"/><path class="b" d="M-7.5 148.8h5v4.5h-5zM-7.5 156.6h4v4.5h-4zM-7.5 172.2h5v4.5h-5z"/></g>
<g id="d82" transform="translate(1976,0)"><circle class="s w" r="16.5"/><text class="n" y="7">82</text></g>
<g id="i82" transform="translate(1976,62)"><path class="s w" d="M0-24 24 0 0 24-24 0z"/><text class="n" y="7">1</text></g>
<g id="m82" transform="translate(1976,0)"><rect class="s w" x="-17" y="107" width="34" height="160"/><use href="#aa"/><path class="b" d="M-7.5 226.8h17v4.5h-17z"/></g>
<g id="d83" transform="translate(2052,0)"><circle class="s w" r="16.5"/><text class="n" y="7">83</text></g>
<g id="i83" transform="translate(2052,62)"><path class="s w" d="M0-24 24 0 0 24-24 0z"/><text class="n" y="7">1</text></g>
<g id="m83" transform="translate(2052,0)"><rect class="s w" x="-17" y="107" width="34" height="160"/><use href="#aa"/><path class="b" d="M-7.5 242.4h5v4.5h-5zM-7.5 250.2h10v4.5h-10z"/></g>
<g id="gd84" transform="translate(2128,0)"><circle class="f" r="16.5"/><text class="n nf" y="7">84</text></g>
<g id="gi84" transform="translate(2128,62)"><path class="f" d="M0-24 24 0 0 24-24 0z"/></g>
<g id="gm84" transform="translate(2128,0)"><rect class="f" x="-17" y="107" width="34" height="160"/></g>
</g>

<!-- ROW 4 -->
<g id="nodes-row4" transform="translate(43,523) scale(0.4875)">
<g id="d84" transform="translate(0,0)"><circle class="s w" r="16.5"/><text class="n" y="7">84</text></g>
<g id="i84" transform="translate(0,62)"><path class="s w" d="M0-24 24 0 0 24-24 0z"/><text class="n" y="7">1</text></g>
<g id="m84" transform="translate(0,0)"><rect class="s w" x="-17" y="107" width="34" height="160"/><use href="#aa"/><path class="b" d="M-7.5 125.4h3v4.5h-3zM-7.5 180h3v4.5h-3zM-7.5 187.8h3v4.5h-3z"/></g>
<g id="d85" transform="translate(76,0)"><circle class="s w" r="16.5"/><text class="n" y="7">85</text></g>
<g id="i85" transform="translate(76,62)"><path class="s w" d="M0-24 24 0 0 24-24 0z"/><text class="n" y="7">1</text></g>
<g id="m85" transform="translate(76,0)"><rect class="s w" x="-17" y="107" width="34" height="160"/><use href="#aa"/><path class="b" d="M-7.5 195.6h14v4.5h-14zM-7.5 211.2h4v4.5h-4z"/></g>
<g id="d86" transform="translate(152,0)"><circle class="s w" r="16.5"/><text class="n" y="7">86</text></g>
<g id="i86" transform="translate(152,62)"><path class="s w" d="M0-24 24 0 0 24-24 0z"/><text class="n" y="7">2</text></g>
<g id="m86" transform="translate(152,0)"><rect class="s w" x="-17" y="107" width="34" height="160"/><use href="#aa"/><path class="b" d="M-7.5 203.4h4v4.5h-4zM-7.5 211.2h14v4.5h-14z"/></g>
<g id="d87" transform="translate(228,0)"><circle class="s w" r="16.5"/><text class="n" y="7">87</text></g>
<g id="i87" transform="translate(228,62)"><path class="s w" d="M0-24 24 0 0 24-24 0z"/><text class="n" y="7">2</text></g>
<g id="m87" transform="translate(228,0)"><rect class="s w" x="-17" y="107" width="34" height="160"/><use href="#aa"/><path class="b" d="M-7.5 117.6h7v4.5h-7z"/></g>
<g id="d88" transform="translate(304,0)"><circle class="s w" r="16.5"/><text class="n" y="7">88</text></g>
<g id="i88" transform="translate(304,62)"><path class="s w" d="M0-24 24 0 0 24-24 0z"/><text class="n" y="7">2</text></g>
<g id="m88" transform="translate(304,0)"><rect class="s w" x="-17" y="107" width="34" height="160"/><use href="#aa"/><path class="b" d="M-7.5 141h4v4.5h-4zM-7.5 180h7v4.5h-7z"/></g>
<g id="d89" transform="translate(380,0)"><circle class="s w" r="16.5"/><text class="n" y="7">89</text></g>
<g id="i89" transform="translate(380,62)"><path class="s w" d="M0-24 24 0 0 24-24 0z"/><text class="n" y="7">2</text></g>
<g id="m89" transform="translate(380,0)"><rect class="s w" x="-17" y="107" width="34" height="160"/><use href="#aa"/><path class="b" d="M-7.5 156.6h4v4.5h-4zM-7.5 195.6h5v4.5h-5zM-7.5 258h3v4.5h-3z"/></g>
<g id="d90" transform="translate(456,0)"><circle class="s k" r="16.5"/><text class="n" y="7">90</text></g>
<g id="i90" transform="translate(456,62)"><path class="s k" d="M0-24 24 0 0 24-24 0z"/><text class="n" y="7">2</text></g>
<g id="m90" transform="translate(456,0)"><rect class="s k" x="-17" y="107" width="34" height="160"/><use href="#aa"/><path class="b" d="M-7.5 117.6h4v4.5h-4zM-7.5 125.4h8v4.5h-8z"/></g>
<g id="d91" transform="translate(532,0)"><circle class="s k" r="16.5"/><text class="n" y="7">91</text></g>
<g id="i91" transform="translate(532,62)"><path class="s k" d="M0-24 24 0 0 24-24 0z"/><text class="n" y="7">5</text></g>
<g id="m91" transform="translate(532,0)"><rect class="s k" x="-17" y="107" width="34" height="160"/><use href="#aa"/><path class="b" d="M-7.5 156.6h10v4.5h-10zM-7.5 226.8h3v4.5h-3z"/></g>
<g id="d92" transform="translate(608,0)"><circle class="s k" r="16.5"/><text class="n" y="7">92</text></g>
<g id="i92" transform="translate(608,62)"><path class="s k" d="M0-24 24 0 0 24-24 0z"/><text class="n" y="7">2</text></g>
<g id="m92" transform="translate(608,0)"><rect class="s k" x="-17" y="107" width="34" height="160"/><use href="#aa"/><path class="b" d="M-7.5 133.2h14v4.5h-14z"/></g>
<g id="d93" transform="translate(684,0)"><circle class="s k" r="16.5"/><text class="n" y="7">93</text></g>
<g id="i93" transform="translate(684,62)"><path class="s k" d="M0-24 24 0 0 24-24 0z"/><text class="n" y="7">2</text></g>
<g id="m93" transform="translate(684,0)"><rect class="s k" x="-17" y="107" width="34" height="160"/><use href="#aa"/><path class="b" d="M-7.5 226.8h14v4.5h-14z"/></g>
<g id="d94" transform="translate(760,0)"><circle class="s k" r="16.5"/><text class="n" y="7">94</text></g>
<g id="i94" transform="translate(760,62)"><path class="s k" d="M0-24 24 0 0 24-24 0z"/><text class="n" y="7">1</text></g>
<g id="m94" transform="translate(760,0)"><rect class="s k" x="-17" y="107" width="34" height="160"/><use href="#aa"/><path class="b" d="M-7.5 258h9v4.5h-9z"/></g>
<g id="d95" transform="translate(836,0)"><circle class="s k" r="16.5"/><text class="n" y="7">95</text></g>
<g id="i95" transform="translate(836,62)"><path class="s k" d="M0-24 24 0 0 24-24 0z"/><text class="n" y="7">2</text></g>
<g id="m95" transform="translate(836,0)"><rect class="s k" x="-17" y="107" width="34" height="160"/><use href="#aa"/><path class="b" d="M-7.5 148.8h3v4.5h-3zM-7.5 195.6h4v4.5h-4z"/></g>
<g id="d96" transform="translate(912,0)"><circle class="s k" r="16.5"/><text class="n" y="7">96</text></g>
<g id="i96" transform="translate(912,62)"><path class="s k" d="M0-24 24 0 0 24-24 0z"/><text class="n" y="7">2</text></g>
<g id="m96" transform="translate(912,0)"><rect class="s k" x="-17" y="107" width="34" height="160"/><use href="#aa"/><path class="b" d="M-7.5 180h6v4.5h-6zM-7.5 187.8h7v4.5h-7z"/></g>
<g id="d97" transform="translate(988,0)"><circle class="s k" r="16.5"/><text class="n" y="7">97</text></g>
<g id="i97" transform="translate(988,62)"><path class="s k" d="M0-24 24 0 0 24-24 0z"/><text class="n" y="7">1</text></g>
<g id="m97" transform="translate(988,0)"><rect class="s k" x="-17" y="107" width="34" height="160"/><use href="#aa"/><path class="b" d="M-7.5 109.8h3v4.5h-3zM-7.5 226.8h14v4.5h-14z"/></g>
<g id="d98" transform="translate(1064,0)"><circle class="s k" r="16.5"/><text class="n" y="7">98</text></g>
<g id="i98" transform="translate(1064,62)"><path class="s k" d="M0-24 24 0 0 24-24 0z"/><text class="n" y="7">2</text></g>
<g id="m98" transform="translate(1064,0)"><rect class="s k" x="-17" y="107" width="34" height="160"/><use href="#aa"/><path class="b" d="M-7.5 109.8h4v4.5h-4zM-7.5 117.6h3v4.5h-3zM-7.5 133.2h3v4.5h-3z"/></g>
<g id="d99" transform="translate(1140,0)"><circle class="s w" r="16.5"/><text class="n" y="7">99</text></g>
<g id="i99" transform="translate(1140,62)"><path class="s w" d="M0-24 24 0 0 24-24 0z"/><text class="n" y="7">1</text></g>
<g id="m99" transform="translate(1140,0)"><rect class="s w" x="-17" y="107" width="34" height="160"/><use href="#aa"/><path class="b" d="M-7.5 141h2v4.5h-2zM-7.5 211.2h2v4.5h-2z"/></g>
<g id="d100" transform="translate(1216,0)"><circle class="s w" r="16.5"/><text class="n" y="7" textLength="27" lengthAdjust="spacingAndGlyphs">100</text></g>
<g id="i100" transform="translate(1216,62)"><path class="s w" d="M0-24 24 0 0 24-24 0z"/><text class="n" y="7">2</text></g>
<g id="m100" transform="translate(1216,0)"><rect class="s w" x="-17" y="107" width="34" height="160"/><use href="#aa"/><path class="b" d="M-7.5 141h8v4.5h-8zM-7.5 250.2h7v4.5h-7z"/></g>
<g id="d101" transform="translate(1292,0)"><circle class="s w" r="16.5"/><text class="n" y="7" textLength="27" lengthAdjust="spacingAndGlyphs">101</text></g>
<g id="i101" transform="translate(1292,62)"><path class="s w" d="M0-24 24 0 0 24-24 0z"/><text class="n" y="7">1</text></g>
<g id="m101" transform="translate(1292,0)"><rect class="s w" x="-17" y="107" width="34" height="160"/><use href="#aa"/><path class="b" d="M-7.5 234.6h3v4.5h-3zM-7.5 258h9v4.5h-9z"/></g>
<g id="d102" transform="translate(1368,0)"><circle class="s k" r="16.5"/><text class="n" y="7" textLength="27" lengthAdjust="spacingAndGlyphs">102</text></g>
<g id="i102" transform="translate(1368,62)"><path class="s k" d="M0-24 24 0 0 24-24 0z"/><text class="n" y="7">2</text></g>
<g id="m102" transform="translate(1368,0)"><rect class="s k" x="-17" y="107" width="34" height="160"/><use href="#aa"/><path class="b" d="M-7.5 141h6v4.5h-6z"/></g>
<g id="d103" transform="translate(1444,0)"><circle class="s k" r="16.5"/><text class="n" y="7" textLength="27" lengthAdjust="spacingAndGlyphs">103</text></g>
<g id="i103" transform="translate(1444,62)"><path class="s k" d="M0-24 24 0 0 24-24 0z"/><text class="n" y="7">2</text></g>
<g id="m103" transform="translate(1444,0)"><rect class="s k" x="-17" y="107" width="34" height="160"/><use href="#aa"/><path class="b" d="M-7.5 109.8h4v4.5h-4zM-7.5 180h5v4.5h-5z"/></g>
<g id="d104" transform="translate(1520,0)"><circle class="s k" r="16.5"/><text class="n" y="7" textLength="27" lengthAdjust="spacingAndGlyphs">104</text></g>
<g id="i104" transform="translate(1520,62)"><path class="s k" d="M0-24 24 0 0 24-24 0z"/><text class="n" y="7">2</text></g>
<g id="m104" transform="translate(1520,0)"><rect class="s k" x="-17" y="107" width="34" height="160"/><use href="#aa"/><path class="b" d="M-7.5 172.2h3v4.5h-3z"/></g>
<g id="d105" transform="translate(1596,0)"><circle class="s k" r="16.5"/><text class="n" y="7" textLength="27" lengthAdjust="spacingAndGlyphs">105</text></g>
<g id="i105" transform="translate(1596,62)"><path class="s k" d="M0-24 24 0 0 24-24 0z"/><text class="n" y="7">2</text></g>
<g id="m105" transform="translate(1596,0)"><rect class="s k" x="-17" y="107" width="34" height="160"/><use href="#aa"/><path class="b" d="M-7.5 180h6v4.5h-6z"/></g>
<g id="d106" transform="translate(1672,0)"><circle class="s k" r="16.5"/><text class="n" y="7" textLength="27" lengthAdjust="spacingAndGlyphs">106</text></g>
<g id="i106" transform="translate(1672,62)"><path class="s k" d="M0-24 24 0 0 24-24 0z"/><text class="n" y="7">3</text></g>
<g id="m106" transform="translate(1672,0)"><rect class="s k" x="-17" y="107" width="34" height="160"/><use href="#aa"/><path class="b" d="M-7.5 141h12v4.5h-12z"/></g>
<g id="d107" transform="translate(1748,0)"><circle class="s k" r="16.5"/><text class="n" y="7" textLength="27" lengthAdjust="spacingAndGlyphs">107</text></g>
<g id="i107" transform="translate(1748,62)"><path class="s k" d="M0-24 24 0 0 24-24 0z"/><text class="n" y="7">2</text></g>
<g id="m107" transform="translate(1748,0)"><rect class="s k" x="-17" y="107" width="34" height="160"/><use href="#aa"/><path class="b" d="M-7.5 172.2h9v4.5h-9z"/></g>
<g id="d108" transform="translate(1824,0)"><circle class="s k" r="16.5"/><text class="n" y="7" textLength="27" lengthAdjust="spacingAndGlyphs">108</text></g>
<g id="i108" transform="translate(1824,62)"><path class="s k" d="M0-24 24 0 0 24-24 0z"/><text class="n" y="7">2</text></g>
<g id="m108" transform="translate(1824,0)"><rect class="s k" x="-17" y="107" width="34" height="160"/><use href="#aa"/><path class="b" d="M-7.5 109.8h11v4.5h-11zM-7.5 148.8h3v4.5h-3zM-7.5 156.6h3v4.5h-3z"/></g>
<g id="d109" transform="translate(1900,0)"><circle class="s k" r="16.5"/><text class="n" y="7" textLength="27" lengthAdjust="spacingAndGlyphs">109</text></g>
<g id="i109" transform="translate(1900,62)"><path class="s k" d="M0-24 24 0 0 24-24 0z"/><text class="n" y="7">2</text></g>
<g id="m109" transform="translate(1900,0)"><rect class="s k" x="-17" y="107" width="34" height="160"/><use href="#aa"/><path class="b" d="M-7.5 141h3v4.5h-3zM-7.5 172.2h6v4.5h-6z"/></g>
<g id="d110" transform="translate(1976,0)"><circle class="s k" r="16.5"/><text class="n" y="7" textLength="27" lengthAdjust="spacingAndGlyphs">110</text></g>
<g id="i110" transform="translate(1976,62)"><path class="s k" d="M0-24 24 0 0 24-24 0z"/><text class="n" y="7">329</text></g>
<g id="m110" transform="translate(1976,0)"><rect class="s k" x="-17" y="107" width="34" height="160"/><use href="#aa"/></g>
<g id="end"><rect class="s k" x="2039" y="45" width="33" height="37"/><text class="n" x="2055.5" y="71" style="font-size:21px" textLength="31" lengthAdjust="spacingAndGlyphs">END</text></g>
</g>

<!-- LARGE -->
<g id="nodes-large" transform="translate(32,701)">
<g id="Lbegin"><rect class="s k" x="-17" y="170" width="34" height="33"/><text class="n" y="194" style="font-size:21px" textLength="33" lengthAdjust="spacingAndGlyphs">BEGIN</text></g>
<g id="Li0" transform="translate(0,62)"><path class="s k" d="M0-24 24 0 0 24-24 0z"/><text class="n" y="7">221</text></g>
<g id="Ld1" transform="translate(76,0)"><circle class="s k" r="16.5"/><text class="n" y="7">1</text></g>
<g id="Li1" transform="translate(76,62)"><path class="s k" d="M0-24 24 0 0 24-24 0z"/><text class="n" y="7">2</text></g>
<g id="Lm1" transform="translate(76,0)"><rect class="s k" x="-17" y="107" width="34" height="160"/><use href="#aa"/><path class="b" d="M-7.5 109.8h2v4.5h-2zM-7.5 117.6h2v4.5h-2zM-7.5 125.4h7v4.5h-7zM-7.5 148.8h2v4.5h-2zM-7.5 180h2v4.5h-2z"/></g>
<g id="Ld2" transform="translate(152,0)"><circle class="s k" r="16.5"/><text class="n" y="7">2</text></g>
<g id="Li2" transform="translate(152,62)"><path class="s k" d="M0-24 24 0 0 24-24 0z"/><text class="n" y="7">2</text></g>
<g id="Lm2" transform="translate(152,0)"><rect class="s k" x="-17" y="107" width="34" height="160"/><use href="#aa"/><path class="b" d="M-7.5 125.4h2v4.5h-2zM-7.5 148.8h13v4.5h-13zM-7.5 172.2h2v4.5h-2zM-7.5 195.6h2v4.5h-2zM-7.5 211.2h2v4.5h-2z"/></g>
<g id="Ld3" transform="translate(228,0)"><circle class="s k" r="16.5"/><text class="n" y="7">3</text></g>
<g id="Li3" transform="translate(228,62)"><path class="s k" d="M0-24 24 0 0 24-24 0z"/><text class="n" y="7">2</text></g>
<g id="Lm3" transform="translate(228,0)"><rect class="s k" x="-17" y="107" width="34" height="160"/><use href="#aa"/><path class="b" d="M-7.5 117.6h2v4.5h-2zM-7.5 141h2v4.5h-2zM-7.5 148.8h10v4.5h-10zM-7.5 180h2v4.5h-2zM-7.5 187.8h2v4.5h-2zM-7.5 226.8h2v4.5h-2z"/></g>
<g id="Ld4" transform="translate(304,0)"><circle class="s w" r="16.5"/><text class="n" y="7">4</text></g>
<g id="Li4" transform="translate(304,62)"><path class="s w" d="M0-24 24 0 0 24-24 0z"/><text class="n" y="7">2</text></g>
<g id="Lm4" transform="translate(304,0)"><rect class="s w" x="-17" y="107" width="34" height="160"/><use href="#aa"/><path class="b" d="M-7.5 203.4h21v4.5h-21z"/></g>
<g id="Ld5" transform="translate(380,0)"><circle class="s w" r="16.5"/><text class="n" y="7">5</text></g>
<g id="Li5" transform="translate(380,62)"><path class="s w" d="M0-24 24 0 0 24-24 0z"/><text class="n" y="7">2</text></g>
<g id="Lm5" transform="translate(380,0)"><rect class="s w" x="-17" y="107" width="34" height="160"/><use href="#aa"/><path class="b" d="M-7.5 211.2h15v4.5h-15zM-7.5 219h5v4.5h-5z"/></g>
<g id="Ld6" transform="translate(456,0)"><circle class="s w" r="16.5"/><text class="n" y="7">6</text></g>
<g id="Li6" transform="translate(456,62)"><path class="s w" d="M0-24 24 0 0 24-24 0z"/><text class="n" y="7">1</text></g>
<g id="Lm6" transform="translate(456,0)"><rect class="s w" x="-17" y="107" width="34" height="160"/><use href="#aa"/><path class="b" d="M-7.5 195.6h7v4.5h-7zM-7.5 203.4h2v4.5h-2zM-7.5 219h9v4.5h-9z"/></g>
<g id="Ld7" transform="translate(532,0)"><circle class="s k" r="16.5"/><text class="n" y="7">7</text></g>
<g id="Li7" transform="translate(532,62)"><path class="s k" d="M0-24 24 0 0 24-24 0z"/><text class="n" y="7">1</text></g>
<g id="Lm7" transform="translate(532,0)"><rect class="s k" x="-17" y="107" width="34" height="160"/><use href="#aa"/><path class="b" d="M-7.5 133.2h17v4.5h-17zM-7.5 180h3v4.5h-3z"/></g>
<g id="Ld8" transform="translate(608,0)"><circle class="s k" r="16.5"/><text class="n" y="7">8</text></g>
<g id="Li8" transform="translate(608,62)"><path class="s k" d="M0-24 24 0 0 24-24 0z"/><text class="n" y="7">1</text></g>
<g id="Lm8" transform="translate(608,0)"><rect class="s k" x="-17" y="107" width="34" height="160"/><use href="#aa"/><path class="b" d="M-7.5 117.6h2v4.5h-2zM-7.5 125.4h2v4.5h-2zM-7.5 141h2v4.5h-2zM-7.5 156.6h2v4.5h-2zM-7.5 164.4h2v4.5h-2zM-7.5 180h9v4.5h-9zM-7.5 195.6h2v4.5h-2z"/></g>
<g id="Ld9" transform="translate(684,0)"><circle class="s k" r="16.5"/><text class="n" y="7">9</text></g>
<g id="Li9" transform="translate(684,62)"><path class="s k" d="M0-24 24 0 0 24-24 0z"/><text class="n" y="7">3</text></g>
<g id="Lm9" transform="translate(684,0)"><rect class="s k" x="-17" y="107" width="34" height="160"/><use href="#aa"/><path class="b" d="M-7.5 226.8h5v4.5h-5zM-7.5 234.6h3v4.5h-3zM-7.5 242.4h10v4.5h-10zM-7.5 250.2h2v4.5h-2z"/></g>
<g id="Ld10" transform="translate(760,0)"><circle class="s w" r="16.5"/><text class="n" y="7">10</text></g>
<g id="Li10" transform="translate(760,62)"><path class="s w" d="M0-24 24 0 0 24-24 0z"/><text class="n" y="7">3</text></g>
<g id="Lm10" transform="translate(760,0)"><rect class="s w" x="-17" y="107" width="34" height="160"/><use href="#aa"/><path class="b" d="M-7.5 109.8h5v4.5h-5zM-7.5 117.6h7v4.5h-7zM-7.5 133.2h3v4.5h-3zM-7.5 141h2v4.5h-2z"/></g>
<g id="Ld11" transform="translate(836,0)"><circle class="s w" r="16.5"/><text class="n" y="7">11</text></g>
<g id="Li11" transform="translate(836,62)"><path class="s w" d="M0-24 24 0 0 24-24 0z"/><text class="n" y="7">2</text></g>
<g id="Lm11" transform="translate(836,0)"><rect class="s w" x="-17" y="107" width="34" height="160"/><use href="#aa"/><path class="b" d="M-7.5 133.2h2v4.5h-2zM-7.5 187.8h18v4.5h-18z"/></g>
<g id="Ld12" transform="translate(912,0)"><circle class="s w" r="16.5"/><text class="n" y="7">12</text></g>
<g id="Li12" transform="translate(912,62)"><path class="s w" d="M0-24 24 0 0 24-24 0z"/><text class="n" y="7">2</text></g>
<g id="Lm12" transform="translate(912,0)"><rect class="s w" x="-17" y="107" width="34" height="160"/><use href="#aa"/><path class="b" d="M-7.5 117.6h2v4.5h-2zM-7.5 125.4h2v4.5h-2zM-7.5 148.8h2v4.5h-2zM-7.5 164.4h2v4.5h-2zM-7.5 180h6v4.5h-6zM-7.5 187.8h4v4.5h-4zM-7.5 195.6h2v4.5h-2z"/></g>
<g id="Ld13" transform="translate(988,0)"><circle class="s w" r="16.5"/><text class="n" y="7">13</text></g>
<g id="Li13" transform="translate(988,62)"><path class="s w" d="M0-24 24 0 0 24-24 0z"/><text class="n" y="7">2</text></g>
<g id="Lm13" transform="translate(988,0)"><rect class="s w" x="-17" y="107" width="34" height="160"/><use href="#aa"/><path class="b" d="M-7.5 125.4h2v4.5h-2zM-7.5 148.8h8v4.5h-8zM-7.5 156.6h7v4.5h-7zM-7.5 172.2h2v4.5h-2zM-7.5 242.4h2v4.5h-2z"/></g>
</g>
</g>

<g id="connectors">
<g id="conn-row1" transform="translate(43,15) scale(0.4875)">
<path class="mm" d="M93 186H135M169 186H211M245 186H287M321 186H363M397 186H439M473 186H515M549 186H591M625 186H667M701 186H743M777 186H819M853 186H895M929 186H971M1005 186H1047M1081 186H1123M1157 186H1199M1233 186H1275M1309 186H1351M1385 186H1427M1537 186H1579M1613 186H1655M1765 186H1807M1841 186H1883M1917 186H1959M1993 186H2035M2069 186H2111"/>
<path class="mt" d="M1461 186H1503M1689 186H1731"/>
<path class="ln" d="M245 142L298 14M320.5 0H363.5M396.5 0H439.5M472.5 0H515.5M538 14L591 142M684 86V107M695 76L743 156M1461 142L1514 14M1444 86V107M1455 76L1503 156M1536.5 0H1579.5M1612.5 0H1655.5M1688.5 0H1731.5M1840.5 0H1883.5M1613 142L1666 14M1689 142L1742 14M1754 14L1807 142M1765 142L1818 14M1906 14L1959 142"/>
<path class="ln ds" d="M76 86V107M87 76L135 156M152 86V107M163 76L211 156M473 142L526 14M760 86V107M771 76L819 156M1526 14L1579 142M1531 76L1579 156M1602 14L1655 142M1678 14L1731 142M1841 142L1894 14M60 12L15 48"/>
<path class="tk" d="M8 75L59 161M0 170V97"/>
<path class="b" d="M0 86L-5.5 99H5.5z"/>
</g>
<g id="conn-row2" transform="translate(43,185) scale(0.4875)">
<path class="mm" d="M17 186H59M93 186H135M169 186H211M245 186H287M321 186H363M549 186H591M625 186H667M701 186H743M777 186H819M853 186H895M929 186H971M1005 186H1047M1081 186H1123M1157 186H1199M1233 186H1275M1309 186H1351M1765 186H1807M1841 186H1883M1917 186H1959M1993 186H2035M2069 186H2111"/>
<path class="mt" d="M397 186H439M473 186H515M1385 186H1427M1461 186H1503M1537 186H1579M1613 186H1655M1689 186H1731"/>
<path class="ln" d="M397 142L450 14M462 14L515 142M684 86V107M695 76L743 156M1309 142L1362 14M1384.5 0H1427.5M1460.5 0H1503.5M1536.5 0H1579.5M1612.5 0H1655.5M1678 14L1731 142M1689 142L1742 14"/>
<path class="ln ds" d="M321 142L374 14M396.5 0H439.5M472.5 0H515.5M538 14L591 142M836 86V107M847 76L895 156M1216 86V107M1227 76L1275 156M1374 14L1427 142M1596 86V107M1607 76L1655 156M1602 14L1655 142M1613 142L1666 14M1764.5 0H1807.5M1754 14L1807 142M1824 86V107M1835 76L1883 156M1830 14L1883 142M1976 86V107M1987 76L2035 156M1993 142L2046 14M2058 14L2111 142"/>
</g>
<g id="conn-row3" transform="translate(43,354) scale(0.4875)">
<path class="mm" d="M17 186H59M93 186H135M169 186H211M245 186H287M321 186H363M397 186H439M473 186H515M549 186H591M625 186H667M701 186H743M777 186H819M853 186H895M929 186H971M1005 186H1047M1081 186H1123M1157 186H1199M1233 186H1275M1309 186H1351M1385 186H1427M1461 186H1503M1537 186H1579M1613 186H1655M1689 186H1731M1765 186H1807M1841 186H1883M1917 186H1959M1993 186H2035M2069 186H2111"/>
<path class="ln" d="M304 86V107M315 76L363 156M397 142L450 14M462 14L515 142M625 142L678 14M690 14L743 142M701 142L754 14M776.5 0H819.5M836 86V107M847 76L895 156M842 14L895 142"/>
<path class="ln ds" d="M76 86V107M87 76L135 156M472.5 0H515.5M532 86V107M543 76L591 156M538 14L591 142M766 14L819 142M1309 142L1362 14M1374 14L1427 142M1368 86V107M1379 76L1427 156M1385 142L1438 14M1450 14L1503 142"/>
</g>
<g id="conn-row4" transform="translate(43,523) scale(0.4875)">
<path class="mm" d="M17 186H59M93 186H135M169 186H211M245 186H287M321 186H363M397 186H439M473 186H515M549 186H591M625 186H667M701 186H743M777 186H819M853 186H895M929 186H971M1005 186H1047M1081 186H1123M1157 186H1199M1233 186H1275M1309 186H1351M1385 186H1427M1461 186H1503M1537 186H1579M1613 186H1655M1689 186H1731M1765 186H1807M1841 186H1883"/>
<path class="ln" d="M397 142L450 14M472.5 0H515.5M532 86V107M543 76L591 156M538 14L591 142M1157 142L1210 14M1461 142L1514 14M1526 14L1579 142"/>
<path class="ln ds" d="M228 86V107M239 76L287 156M548.5 0H591.5M624.5 0H667.5M700.5 0H743.5M776.5 0H819.5M852.5 0H895.5M928.5 0H971.5M1004.5 0H1047.5M1080.5 0H1123.5M1156.5 0H1199.5M1232.5 0H1275.5M549 142L602 14M614 14L667 142M690 14L743 142M760 86V107M771 76L819 156M836 86V107M847 76L895 156M1064 86V107M1075 76L1123 156M1140 86V107M1151 76L1199 156M1146 14L1199 142M1222 14L1275 142M1292 86V107M1303 76L1351 156M1298 14L1351 142M1368 86V107M1379 76L1427 156M1536.5 0H1579.5M1612.5 0H1655.5M1678 14L1731 142M1748 86V107M1759 76L1807 156M1916.5 0H1959.5M1900 86V107M1962 11L1912 50M1991 10L2039 46"/>
<path class="tk" d="M1917 160L1970 22M2000 62H2039M1976 17V30"/>
<path class="b" d="M1976 38L1970.5 27H1981.5z"/>
</g>
<g id="conn-large" transform="translate(32,701)">
<path class="mm" d="M93 186H135M169 186H211M245 186H287M321 186H363M397 186H439M473 186H515M549 186H591M625 186H667M701 186H743M777 186H819M853 186H895M929 186H971M1005 186H1060"/>
<path class="ln" d="M245 142L298 14M320.5 0H363.5M396.5 0H439.5M472.5 0H515.5M538 14L591 142M684 86V107M695 76L743 156"/>
<path class="ln ds" d="M76 86V107M87 76L135 156M152 86V107M163 76L211 156M473 142L526 14M760 86V107M771 76L819 156M60 12L15 48"/>
<path class="tk" d="M8 75L59 161M0 170V97"/>
<path class="b" d="M0 86L-5.5 99H5.5z"/>
</g>
</g>
</svg>
